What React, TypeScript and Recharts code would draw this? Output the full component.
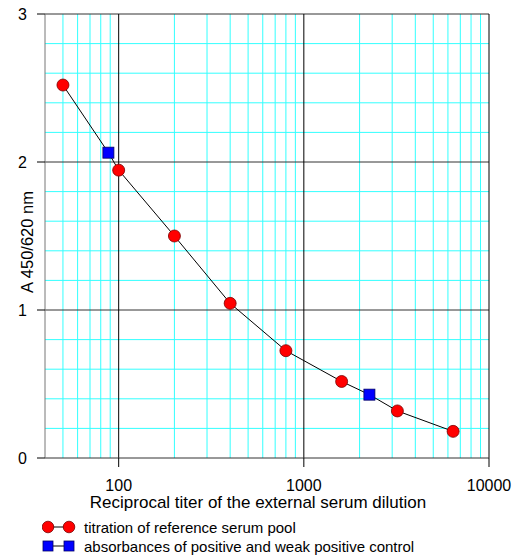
import React from 'react';
import {
  ComposedChart,
  Line,
  Scatter,
  XAxis,
  YAxis,
  ReferenceLine,
  Label,
} from 'recharts';

// reference serum pool titration
const refTiter = [50, 100, 200, 400, 800, 1600, 3200, 6400];
const refAbs = [2.52, 1.945, 1.5, 1.045, 0.725, 0.517, 0.318, 0.18];

// positive / weak positive controls
const ctrlTiter = [88, 2260];
const ctrlAbs = [2.063, 0.428];

const xTicks = [100, 1000, 10000];
const yTicks = [0, 1, 2, 3];
const xMinor = [50, 60, 70, 80, 90, 200, 300, 400, 500, 600, 700, 800, 900, 2000, 3000, 4000, 5000, 6000, 7000, 8000, 9000];
const xMajor = [100, 1000, 10000];
const yMinor = [0.2, 0.4, 0.6, 0.8, 1.2, 1.4, 1.6, 1.8, 2.2, 2.4, 2.6, 2.8];
const yMajor = [1, 2, 3];

const refData = refTiter.map((x, i) => ({ x, y: refAbs[i] }));
const ctrlData = ctrlTiter.map((x, i) => ({ x, y: ctrlAbs[i] }));
const lineData = [...refData, ...ctrlData].sort((a, b) => a.x - b.x);

const FONT = 'Arial, "Liberation Sans", sans-serif';
const CYAN = '#33ffff';

const RedDot = (props: any) => {
  const { cx, cy } = props;
  if (cx == null || cy == null) return null;
  return <circle cx={cx} cy={cy} r={6} fill="#ff0000" stroke="#7a0000" strokeWidth={0.8} />;
};

const BlueSquare = (props: any) => {
  const { cx, cy } = props;
  if (cx == null || cy == null) return null;
  return <rect x={cx - 5.5} y={cy - 5.5} width={11} height={11} fill="#0000ff" stroke="#000066" strokeWidth={0.8} />;
};

const LegendRow = ({ kind, text }: { kind: 'circle' | 'square'; text: string }) => (
  <div style={{ display: 'flex', alignItems: 'center', height: 19 }}>
    <svg width={40} height={14} style={{ marginRight: 2, flexShrink: 0 }}>
      <line x1={6} y1={7} x2={27} y2={7} stroke="#000" strokeWidth={1} />
      {kind === 'circle' ? (
        <>
          <circle cx={6} cy={7} r={5.8} fill="#ff0000" stroke="#7a0000" strokeWidth={0.8} />
          <circle cx={27} cy={7} r={5.8} fill="#ff0000" stroke="#7a0000" strokeWidth={0.8} />
        </>
      ) : (
        <>
          <rect x={1} y={2} width={10} height={10} fill="#0000ff" stroke="#000066" strokeWidth={0.8} />
          <rect x={22} y={2} width={10} height={10} fill="#0000ff" stroke="#000066" strokeWidth={0.8} />
        </>
      )}
    </svg>
    <span style={{ whiteSpace: 'nowrap' }}>{text}</span>
  </div>
);

export default function App() {
  return (
    <div style={{ position: 'absolute', left: 0, top: 0, width: 517, height: 558, background: '#fff', fontFamily: FONT }}>
      <ComposedChart width={517} height={520} margin={{ top: 14, right: 28, left: 15, bottom: 0 }}>
        <XAxis
          dataKey="x"
          type="number"
          scale="log"
          domain={[40, 10000]}
          ticks={xTicks}
          allowDataOverflow
          height={62}
          tickSize={9}
          tickMargin={13}
          axisLine={{ stroke: '#333' }}
          tickLine={{ stroke: '#000' }}
          tick={{ fontSize: 16, fill: '#000', fontFamily: FONT }}
        >
          <Label
            value="Reciprocal titer of the external serum dilution"
            position="insideBottom"
            offset={12}
            dx={-9}
            style={{ fontSize: 17, fill: '#000', fontFamily: FONT }}
          />
        </XAxis>
        <YAxis
          dataKey="y"
          type="number"
          domain={[0, 3]}
          ticks={yTicks}
          width={30}
          tickSize={8}
          tickMargin={10}
          axisLine={{ stroke: '#777' }}
          tickLine={{ stroke: '#000' }}
          tick={{ fontSize: 16, fill: '#000', fontFamily: FONT }}
        >
          <Label
            content={() => (
              <text
                x={27}
                y={242}
                transform="rotate(-90 27 242)"
                textAnchor="middle"
                dominantBaseline="central"
                fontSize={16.5}
                fontFamily={FONT}
                fill="#000"
              >
                A 450/620 nm
              </text>
            )}
          />
        </YAxis>

        {xMinor.map((v) => (
          <ReferenceLine key={'xm' + v} x={v} stroke={CYAN} strokeWidth={1} />
        ))}
        {yMinor.map((v) => (
          <ReferenceLine key={'ym' + v} y={v} stroke={CYAN} strokeWidth={1} />
        ))}
        {yMajor.map((v) => (
          <ReferenceLine key={'yM' + v} y={v} stroke="#333" strokeWidth={1} />
        ))}
        {xMajor.map((v) => (
          <ReferenceLine key={'xM' + v} x={v} stroke="#000" strokeWidth={1} />
        ))}

        <Line
          data={lineData}
          dataKey="y"
          type="linear"
          stroke="#000"
          strokeWidth={1}
          dot={false}
          activeDot={false}
          isAnimationActive={false}
        />
        <Scatter data={refData} dataKey="y" shape={RedDot} isAnimationActive={false} />
        <Scatter data={ctrlData} dataKey="y" shape={BlueSquare} isAnimationActive={false} />
      </ComposedChart>
      <div style={{ position: 'absolute', left: 42, top: 517.5, fontSize: 15, color: '#000' }}>
        <LegendRow kind="circle" text="titration of reference serum pool" />
        <LegendRow kind="square" text="absorbances of positive and weak positive control" />
      </div>
    </div>
  );
}
